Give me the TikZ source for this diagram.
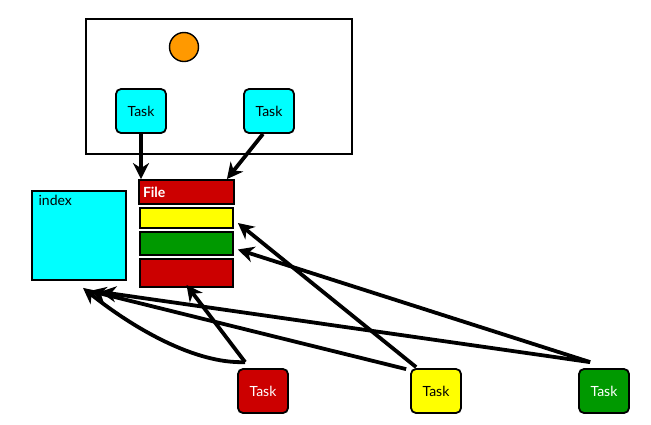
\documentclass[tikz,border=0pt]{standalone}
\usepackage{fontspec}
\setmainfont{Lato}
\usetikzlibrary{arrows.meta}
\definecolor{sun}{RGB}{255,153,0}
\definecolor{tred}{RGB}{204,0,0}
\definecolor{tyellow}{RGB}{255,255,0}
\definecolor{tgreen}{RGB}{0,153,0}
\definecolor{tcyan}{RGB}{0,255,255}

\begin{document}
\begin{tikzpicture}[x=1pt,y=-1pt,font=\fontsize{14}{16}\selectfont,
    task/.style ={rectangle, rounded corners=5pt, draw, line width=1.8pt, minimum width=50pt, minimum height=44pt},
    slot/.style ={rectangle, draw, line width=1.8pt, minimum width=93pt, inner sep=0pt},
    link/.style ={line width=3.8pt, -{Stealth[length=16pt,width=16pt,inset=5pt]}}]
   \useasboundingbox (0,0) rectangle (651,424);
   % worker with its two tasks
   \node[draw, line width=2pt, minimum width=266pt, minimum height=135pt] (W) at (219,86.5) {};
   \node[circle, draw, line width=1.4pt, fill=sun, minimum size=29pt, inner sep=0pt] (S) at (184,47) {};
   \node[task, fill=tcyan] (T1) at (141,111) {Task};
   \node[task, fill=tcyan] (T2) at (269,111) {Task};
   % file and index
   \node[slot, fill=tred, minimum height=24pt, text width=87pt, inner xsep=4pt, align=left, text=white] (F) at (186.5,192) {\bfseries File};
   \node[slot, fill=tyellow, minimum height=20pt] (Y) at (186.5,218) {};
   \node[slot, fill=tgreen, minimum height=23pt] (G) at (186.5,243.5) {};
   \node[slot, fill=tred, minimum height=28pt] (R) at (186.5,273) {};
   \node[rectangle, draw, line width=1.8pt, fill=tcyan, minimum width=94pt, minimum height=89pt,
         label={[name=Il, anchor=north west, xshift=4pt, yshift=-2pt]north west:index}] (I) at (79,235.5) {};
   % tasks below
   \node[task, fill=tred, text=white] (B1) at (263,391) {Task};
   \node[task, fill=tyellow] (B2) at (436,391) {Task};
   \node[task, fill=tgreen, text=white] (B3) at (604,391) {Task};
   \coordinate (b1) at ([shift={(8,-6)}]B1.north west);
   \coordinate (b2) at ([shift={(6,-1)}]B2.north west);
   \coordinate (b2i) at ([shift={(-4,1)}]B2.north west);
   \coordinate (b3) at ([shift={(12,-6)}]B3.north west);
   \draw[link] (T1.south) -- (T1.south |- F.north);
   \draw[link] ([xshift=-6pt]T2.south) -- ([xshift=-8pt]F.north east);
   \draw[link] (b1) -- ([yshift=3pt]R.south);
   \draw[link] (b1) .. controls +(-50,2) and +(50,40) .. ([shift={(4,7)}]I.south);
   \draw[link] (b2) -- ([shift={(4,5)}]Y.east);
   \draw[link] (b2i) -- ([shift={(11,10)}]I.south);
   \draw[link] (b3) -- ([shift={(4,6)}]G.east);
   \draw[link] (b3) -- ([shift={(21,11)}]I.south);
 \end{tikzpicture}
\end{document}
